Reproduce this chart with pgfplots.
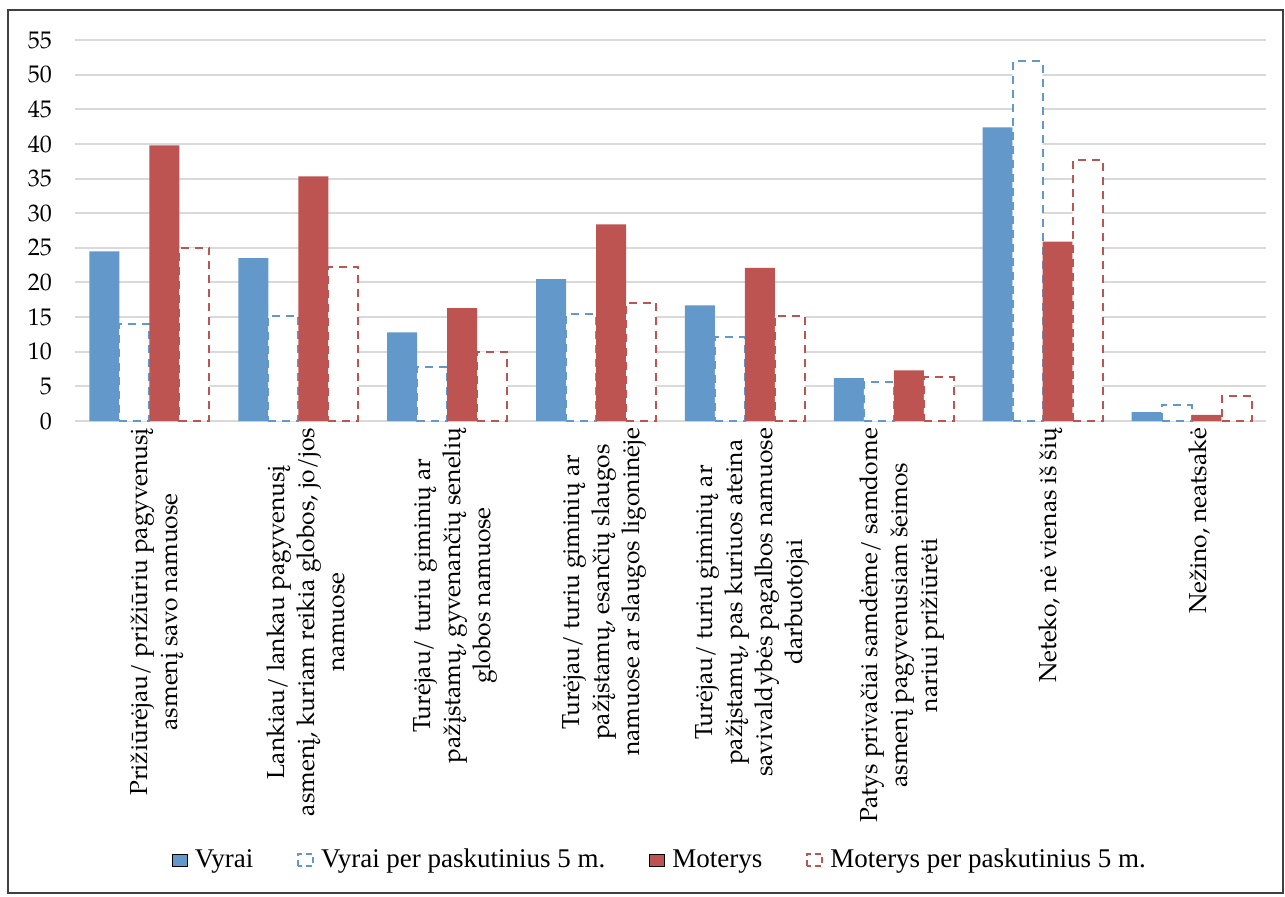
\documentclass[border=0pt]{standalone}
\usepackage{fontspec}
\setmainfont{Liberation Serif}
\newfontfamily\pala{TeX Gyre Pagella}
\usepackage{pgfplots}
\pgfplotsset{compat=1.18}

\definecolor{cblue}{HTML}{6398CB}
\definecolor{cred}{HTML}{BE5451}
\definecolor{gridgray}{HTML}{D9D9D9}
\definecolor{framegray}{HTML}{404040}
\newcommand\lbl{\pala\fontsize{12.3}{15}\selectfont}
\newcommand\ylbl{\pala\fontsize{12}{14}\selectfont}
\newcommand\leg{\fontsize{13.5}{16}\selectfont}

\pgfplotsset{
  sqleg/.style={legend image code/.code={\draw[##1] (0pt,-3pt) rectangle (7.5pt,3pt);}},
  dashleg/.style={legend image code/.code={\draw[##1, dash pattern=on 3pt off 2pt] (0pt,-3pt) rectangle (7.5pt,3pt);}},
}

\begin{document}
\begin{tikzpicture}
\begin{axis}[
    scale only axis,
    width=595.5pt, height=190.5pt,
    ybar=0pt, bar width=15pt,
    xmin=-0.5, xmax=7.5,
    ymin=0, ymax=55,
    xtick={0,...,7},
    ytick={0,5,...,55},
    xticklabels={
      {Prižiūrėjau/ prižiūriu pagyvenusį\\asmenį savo namuose},
      {Lankiau/ lankau pagyvenusį\\asmenį, kuriam reikia globos, jo/jos\\namuose},
      {Turėjau/ turiu giminių ar\\pažįstamų, gyvenančių senelių\\globos namuose},
      {Turėjau/ turiu giminių ar\\pažįstamų, esančių slaugos\\namuose ar slaugos ligoninėje},
      {Turėjau/ turiu giminių ar\\pažįstamų, pas kuriuos ateina\\savivaldybės pagalbos namuose\\darbuotojai},
      {Patys privačiai samdėme/ samdome\\asmenį pagyvenusiam šeimos\\nariui prižiūrėti},
      {Neteko, nė vienas iš šių},
      {Nežino, neatsakė}},
    x tick label style={rotate=90, anchor=east, align=center, font=\lbl, yshift=-4pt},
    y tick label style={font=\ylbl, xshift=-8pt},
    /pgf/number format/assume math mode=true,
    major tick length=0pt,
    axis line style={draw=none},
    ymajorgrids,
    major grid style={gridgray, line width=1pt},
    legend style={at={(0.492,-1.152)}, anchor=center, draw=none, fill=none,
      legend columns=4, font=\leg,
      /tikz/every odd column/.append style={column sep=1.5pt},
      /tikz/every even column/.append style={column sep=20pt}},
  ]
  \coordinate (O) at (rel axis cs:0,0);

  \addplot[fill=cblue, draw=none, sqleg]
    coordinates {(0,24.5) (1,23.5) (2,12.8) (3,20.5) (4,16.7) (5,6.2) (6,42.4) (7,1.3)};
  \addlegendentry{Vyrai}

  \addplot[fill=white, draw=cblue, line width=1pt, dash pattern=on 4pt off 3pt, dashleg]
    coordinates {(0,14.0) (1,15.2) (2,7.8) (3,15.4) (4,12.1) (5,5.6) (6,51.9) (7,2.3)};
  \addlegendentry{Vyrai per paskutinius 5 m.}

  \addplot[fill=cred, draw=none, sqleg]
    coordinates {(0,39.8) (1,35.3) (2,16.3) (3,28.4) (4,22.1) (5,7.3) (6,25.9) (7,0.9)};
  \addlegendentry{Moterys}

  \addplot[fill=white, draw=cred, line width=1pt, dash pattern=on 4pt off 3pt, dashleg]
    coordinates {(0,25.0) (1,22.3) (2,10.0) (3,17.1) (4,15.2) (5,6.3) (6,37.7) (7,3.6)};
  \addlegendentry{Moterys per paskutinius 5 m.}
\end{axis}
\pgfresetboundingbox
\path[use as bounding box] ([xshift=-37.5pt, yshift=-237.5pt]O) rectangle ([xshift=605pt, yshift=210.5pt]O);
\draw[framegray, line width=0.6pt] ([xshift=-33.5pt, yshift=-236pt]O) rectangle ([xshift=604pt, yshift=205.5pt]O);
\end{tikzpicture}
\end{document}
